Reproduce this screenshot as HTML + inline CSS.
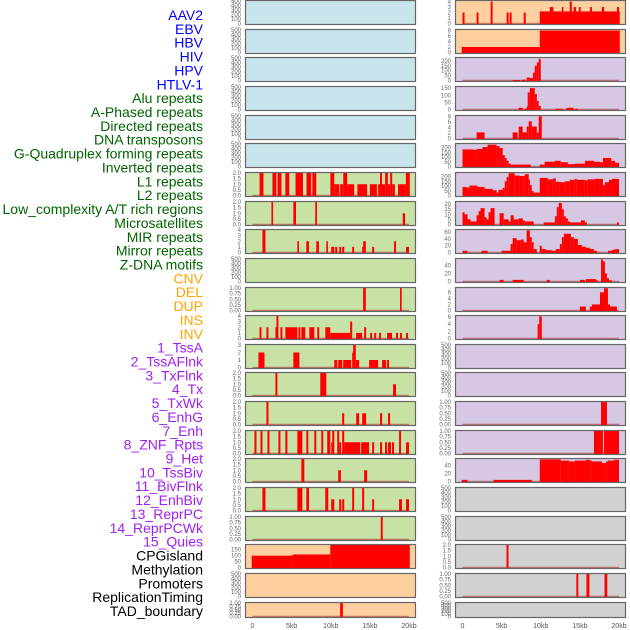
<!DOCTYPE html>
<html><head><meta charset="utf-8"><style>
html,body{margin:0;padding:0;background:#fff;}
svg{display:block;font-family:"Liberation Sans",sans-serif;}
</style></head><body>
<svg id="chart" width="630" height="630" viewBox="0 0 630 630" xmlns="http://www.w3.org/2000/svg"></svg>
<script>
// ---- labels ----
const labelNames=["AAV2","EBV","HBV","HIV","HPV","HTLV-1","Alu repeats","A-Phased repeats","Directed repeats","DNA transposons","G-Quadruplex forming repeats","Inverted repeats","L1 repeats","L2 repeats","Low_complexity A/T rich regions","Microsatellites","MIR repeats","Mirror repeats","Z-DNA motifs","CNV","DEL","DUP","INS","INV","1_TssA","2_TssAFlnk","3_TxFlnk","4_Tx","5_TxWk","6_EnhG","7_Enh","8_ZNF_Rpts","9_Het","10_TssBiv","11_BivFlnk","12_EnhBiv","13_ReprPC","14_ReprPCWk","15_Quies","CPGisland","Methylation","Promoters","ReplicationTiming","TAD_boundary"];
const labelGroups=[6,13,5,15,5];
const groupColors=["#0000ff","#006400","#ffa500","#a020f0","#000000"];
// ---- x axis ----
const xTicks=[0,5,10,15,20];
const xTickLabels=["0","5kb","10kb","15kb","20kb"];
// ---- tick label sets ----
const T_E=[0,100,200,300,400,500];
const T_2=["0.0","0.5","1.0","1.5","2.0"];
const T_1=["0.00","0.25","0.50","0.75","1.00"];
// ---- data: [startKb, endKb, value] ----
const L6=[[0.9,1.4,2],[2.55,3.05,2],[3.2,3.7,2],[4.2,4.7,2],[5.5,6.45,2],[6.9,7.5,2],[7.65,8.15,2],[9.95,10.45,2],[10.45,11.1,1],[11.2,11.6,1],[11.6,12.1,2],[12.1,13,1],[13.4,14.65,1],[15,15.9,1],[16.05,16.3,1],[16.3,16.55,2],[16.55,16.95,1],[16.95,17.3,2],[17.3,17.6,1],[17.6,17.85,2],[17.85,18.2,1],[18.6,19.6,1],[19.6,20.1,2]];
const L7=[[2.42,2.63,2],[5.22,5.56,2],[8.02,8.24,2],[19.2,19.5,1]];
const L8=[[1.27,1.66,4],[5.73,5.94,2],[6.88,7.22,2],[8.15,8.49,2],[9.43,9.64,2],[10.06,10.45,1],[10.57,10.83,1],[11.08,11.34,1],[11.46,11.72,1],[12.74,12.99,1],[14.01,14.14,1],[14.14,14.48,2],[15.29,15.54,1],[18.09,18.34,2],[19.62,20,1]];
const L10=[[14.14,14.48,1],[18.85,19.06,1]];
const L11=[[0.9,1.15,2],[1.78,2.04,2],[2.93,3.06,2],[3.06,3.31,4],[3.57,3.82,2],[4.2,5.73,2],[5.86,6.11,2],[6.24,6.75,2],[7.26,7.9,2],[8.28,8.53,2],[9.3,9.94,2],[9.94,12.48,1],[12.48,12.74,3],[13.25,14.01,1],[14.27,14.52,2],[15.03,15.29,1],[15.54,15.8,1],[16.18,16.43,1],[17.2,17.83,1],[18.34,18.6,1],[18.85,19.1,1],[19.62,19.87,1]];
const L12=[[0.76,1.53,2],[5.22,5.99,2],[10.45,10.83,1],[10.95,11.46,1],[11.59,12.61,1],[12.74,12.86,2],[12.86,13.2,3],[13.2,13.63,1],[14.9,16.05,1],[16.56,17.07,1],[17.2,17.45,1]];
const L13=[[2.93,3.18,2],[8.66,9.43,2],[17.96,18.34,1]];
const L14=[[1.78,2.04,2],[11.46,11.72,1],[13.25,13.63,1],[14.01,14.52,1],[16.3,16.56,1],[17.32,17.58,1]];
const L15=[[0.25,0.51,2],[1.02,1.27,2],[1.91,2.17,2],[3.31,3.57,2],[4.2,4.46,2],[5.73,6.37,2],[6.88,7.13,2],[7.9,8.15,2],[8.79,9.04,2],[9.55,9.94,2],[10.06,10.19,1],[10.19,10.45,2],[10.83,11.08,2],[11.08,11.34,1],[11.46,11.72,2],[11.72,13.76,1],[13.88,14.9,1],[15.29,15.54,1],[16.3,16.56,1],[16.94,17.2,1],[17.32,17.7,1],[17.83,18.09,1],[18.73,18.98,2],[19.62,20,1]];
const L16=[[6.24,6.62,2],[10.95,11.3,1],[14.27,14.65,1]];
const L17=[[1.27,1.66,2],[5.73,6.37,2],[6.88,7.22,2],[9.3,9.68,2],[10.06,10.45,1],[11.08,11.34,1],[11.46,11.72,1],[12.74,12.99,2],[14.01,14.27,2],[15.29,15.54,1],[18.73,19.1,1],[19.62,20,1]];
const L18=[[16.39,16.64,1]];
const L19=[[-0.1,5.1,100],[5.1,9.94,110],[9.94,20.1,190]];
const L21=[[11.2,11.55,1]];
const R0=[[0,0.26,2],[1.8,2.05,2],[3.6,3.85,4],[5.64,5.9,2],[6.03,6.28,2],[7.82,8.08,2],[9.87,20.1,2.2],[11.15,11.6,3],[12.7,12.9,3],[13.7,13.97,4],[14.2,14.5,3],[14.87,15.1,3],[16.3,16.54,3],[17.8,18.1,3],[19.74,20,3]];
const R1=[[-0.1,9.87,2],[9.87,20.1,8]];
const R2=[[6.4,7.4,5],[7.56,8.08,8],[8.2,8.6,30],[8.6,9,25],[9,9.23,80],[9.23,9.5,150],[9.5,9.74,185],[9.74,10,220]];
const R3=[[7.18,7.7,12],[7.95,8.2,5],[8.2,8.33,20],[8.33,8.6,120],[8.6,9.23,150],[9.23,9.5,110],[9.5,9.74,60],[9.74,10,25],[11.9,12.8,5],[13.2,13.33,5],[13.33,14.2,12],[14.36,14.74,5]];
const R4=[[1.8,2.82,2.2],[6.41,7.05,2.2],[7.18,7.69,4.3],[7.69,8.2,2.2],[8.2,8.46,4.3],[8.46,8.85,6.2],[8.85,9.49,4.3],[9.49,9.74,2.2],[9.74,10.13,8]];
const R5=[[0,1.41,180],[1.41,1.8,175],[1.8,2.56,185],[2.56,3.2,205],[3.2,4.36,230],[4.36,4.75,215],[4.75,5.13,195],[5.13,5.4,120],[5.4,5.64,90],[5.64,5.9,60],[5.9,6.15,30],[6.15,8.72,20],[9.87,10.5,20],[10.5,11.8,50],[11.8,12.56,60],[12.56,13.46,45],[13.46,14.36,25],[14.36,15.64,30],[15.64,16.8,60],[16.8,17.57,50],[17.57,17.95,45],[17.95,19,90],[19,19.5,60],[19.5,20,40]];
const R6=[[0,0.51,90],[0.51,0.9,85],[0.9,1.92,105],[1.92,2.82,90],[2.82,3.85,70],[3.85,4.36,55],[4.36,4.6,30],[4.6,5.13,60],[5.13,5.4,80],[5.4,5.64,150],[5.64,5.9,195],[5.9,6.67,235],[6.67,7.3,210],[7.3,7.95,205],[7.95,8.46,225],[8.46,8.6,170],[8.6,8.85,110],[8.85,9.1,45],[9.1,9.87,30],[9.87,10.9,185],[10.9,11.54,170],[11.54,11.92,180],[11.92,12.44,145],[12.44,13.08,140],[13.08,13.72,150],[13.72,14.36,165],[14.36,14.6,175],[14.6,15.64,165],[15.64,16,160],[16,16.92,170],[16.92,17.95,175],[17.95,18.2,110],[18.2,18.72,140],[18.72,19.1,165],[19.1,20,175]];
const R7=[[0,0.26,12],[0.26,0.64,10],[0.64,1.03,5],[1.03,1.8,3],[1.8,2.05,9],[2.05,2.3,13],[2.3,2.82,16],[2.82,3.08,7],[3.08,3.33,5],[3.33,3.59,12],[3.59,4.1,16],[4.74,5.26,11],[5.26,5.9,5],[5.9,6.15,3],[6.15,6.54,9],[6.54,7.18,5],[7.18,7.69,6],[7.69,7.95,4],[7.95,9.1,3],[10.38,11.8,2],[11.8,12.05,8],[12.05,12.3,17],[12.3,12.7,21],[12.7,12.95,15],[12.95,13.2,8],[13.2,13.46,6],[13.46,13.72,3],[13.72,15.13,2],[15.13,15.64,4],[15.64,15.9,2],[19.74,20,2]];
const R8=[[0,0.64,5],[2.44,3.2,5],[5,6.15,5],[6.15,6.41,25],[6.41,6.92,42],[6.92,7.44,36],[7.44,7.82,38],[7.82,8.2,30],[8.2,8.6,65],[8.6,8.85,45],[8.85,9.1,30],[9.1,9.49,10],[9.87,10.13,20],[10.13,10.64,10],[10.64,11.41,7],[11.41,11.92,5],[11.92,12.44,10],[12.44,12.7,25],[12.7,12.95,45],[12.95,13.85,55],[13.85,14.23,45],[14.23,14.74,40],[14.74,15.26,22],[15.26,15.77,17],[15.77,16.28,14],[16.28,16.8,10],[16.8,17.2,5],[18.6,19.1,5],[19.1,19.5,8],[19.5,20,10]];
const R9=[[4.74,5.26,4],[6.41,7.82,4],[10.77,11.15,4],[15,15.64,4],[15.77,17.05,6],[17.05,17.3,3],[17.7,17.95,55],[17.95,18.2,50],[18.2,18.46,20],[18.46,18.72,8],[18.72,19.1,3]];
const R10=[[15,15.77,1.3],[16.28,16.54,1.3],[16.54,17.57,2],[17.57,18.08,6],[18.08,18.59,7.3],[18.59,18.85,2],[18.85,19.74,1.3]];
const R11=[[9.6,9.8,4],[9.8,10.13,6.2]];
const R14=[[17.7,18.46,1]];
const R15=[[16.8,17.95,1],[18.08,20,1]];
const R16=[[-0.1,0.64,4],[3.97,8.85,4],[9.87,12.56,55],[12.56,13.6,52],[13.6,14.36,50],[14.36,15.77,52],[15.77,16.28,54],[16.28,16.54,52],[16.54,17.82,50],[17.82,18.33,46],[18.33,18.59,50],[18.59,19.36,52],[19.36,20,54]];
const R19=[[5.62,5.88,2]];
const R20=[[14.55,14.8,1],[15.84,16.22,1],[18.15,18.5,1]];

const BG={b:"#c8e4ec",g:"#c8e1a4",o:"#ffd09f",p:"#d6c7e3",y:"#d1d1d1"};
// [column, row, background, yMax, tickValues, tickLabels, data]
const panels=[
["L",0,"b",500,T_E,T_E,null],["L",1,"b",500,T_E,T_E,null],["L",2,"b",500,T_E,T_E,null],["L",3,"b",500,T_E,T_E,null],["L",4,"b",500,T_E,T_E,null],["L",5,"b",500,T_E,T_E,null],
["L",6,"g",2,[0,0.5,1,1.5,2],T_2,L6],["L",7,"g",2,[0,0.5,1,1.5,2],T_2,L7],["L",8,"g",4,[0,1,2,3,4],[0,1,2,3,4],L8],["L",9,"g",500,T_E,T_E,null],
["L",10,"g",1,[0,0.25,0.5,0.75,1],T_1,L10],["L",11,"g",4,[0,1,2,3,4],[0,1,2,3,4],L11],["L",12,"g",3,[0,1,2,3],[0,1,2,3],L12],
["L",13,"g",2,[0,0.5,1,1.5,2],T_2,L13],["L",14,"g",2,[0,0.5,1,1.5,2],T_2,L14],["L",15,"g",2,[0,0.5,1,1.5,2],T_2,L15],["L",16,"g",2,[0,0.5,1,1.5,2],T_2,L16],["L",17,"g",2,[0,0.5,1,1.5,2],T_2,L17],
["L",18,"g",1,[0,0.25,0.5,0.75,1],T_1,L18],["L",19,"o",190,[0,50,100,150],[0,50,100,150],L19],["L",20,"o",500,T_E,T_E,null],["L",21,"o",1,[0,0.25,0.5,0.75,1],T_1,L21],
["R",0,"o",4.1,[0,1,2,3,4],[0,1,2,3,4],R0],["R",1,"o",8.2,[0,2,4,6,8],[0,2,4,6,8],R1],["R",2,"p",230,[0,50,100,150,200],[0,50,100,150,200],R2],["R",3,"p",158,[0,50,100,150],[0,50,100,150],R3],
["R",4,"p",8.1,[0,2,4,6,8],[0,2,4,6,8],R4],["R",5,"p",237,[0,50,100,150,200],[0,50,100,150,200],R5],["R",6,"p",237,[0,50,100,150,200],[0,50,100,150,200],R6],
["R",7,"p",22,[0,5,10,15,20],[0,5,10,15,20],R7],["R",8,"p",66,[0,20,40,60],[0,20,40,60],R8],["R",9,"p",56,[0,20,40],[0,20,40],R9],
["R",10,"p",7.4,[0,2,4,6],[0,2,4,6],R10],["R",11,"p",6.3,[0,2,4,6],[0,2,4,6],R11],["R",12,"p",500,T_E,T_E,null],["R",13,"p",500,T_E,T_E,null],
["R",14,"p",1,[0,0.25,0.5,0.75,1],T_1,R14],["R",15,"p",1,[0,0.25,0.5,0.75,1],T_1,R15],["R",16,"p",56,[0,20,40],[0,20,40],R16],
["R",17,"y",500,T_E,T_E,null],["R",18,"y",500,T_E,T_E,null],["R",19,"y",2,[0,0.5,1,1.5,2],T_2,R19],["R",20,"y",1,[0,0.25,0.5,0.75,1],T_1,R20],["R",21,"y",500,T_E,T_E,null]
];

const NS="http://www.w3.org/2000/svg";
const svg=document.getElementById("chart");
function mk(tag,attrs,parent){const e=document.createElementNS(NS,tag);for(const k in attrs)e.setAttribute(k,attrs[k]);(parent||svg).appendChild(e);return e;}

// labels
let li=0;
labelGroups.forEach((n,gi)=>{for(let k=0;k<n;k++){const t=mk("text",{x:203,y:15+li*13.86+5,"text-anchor":"end","font-size":"14",fill:groupColors[gi]});
t.textContent=labelNames[li];


li++;}});

const COLX={L:245,R:455};
const PW=171;
function xScale(col,kb){return COLX[col]+7.5+kb*(156.5/20);}
panels.forEach(p=>{
  const [col,row,bg,ymax,tv,tl,data]=p;
  const top=Math.round(row*28.65);
  const h=row===21?16:25;
  const g=mk("g",{});
  
  
  const bgR=mk("rect",{x:COLX[col],y:top,width:PW,height:h,fill:BG[bg]},g);
  
  
  const yS=v=>top+h-1.5-(v/ymax)*(h-2.5);
  if(data){
    const base=mk("line",{x1:xScale(col,0),x2:xScale(col,20),y1:yS(0),y2:yS(0),stroke:"rgba(170,40,40,0.55)","stroke-width":1.6},g);
    
    
    data.forEach(d=>{
      const x1=xScale(col,d[0]),x2=xScale(col,d[1]);
      const y=yS(d[2]);
      const r=mk("rect",{x:x1,y:y,width:Math.max(1.2,x2-x1),height:yS(0)-y+0.8,fill:"#ff0000"},g);
      
      
    });
  }
  const br=mk("rect",{x:COLX[col]+0.5,y:top+0.5,width:PW-1,height:h-1,fill:"none",stroke:"#666","stroke-width":1.2},g);
  
  
  tv.forEach((v,i)=>{
    const t=mk("text",{x:COLX[col]-4,y:yS(v)+2,"text-anchor":"end","font-size":"6",fill:"#666"},g);
    t.textContent=String(tl[i]);
    
    
  });
});
["L","R"].forEach(col=>{
  xTicks.forEach((v,i)=>{
    const t=mk("text",{x:xScale(col,v),y:628,"text-anchor":"middle","font-size":"7",fill:"#555"});
    t.textContent=xTickLabels[i];
    
    
  });
});
</script>
</body></html>
